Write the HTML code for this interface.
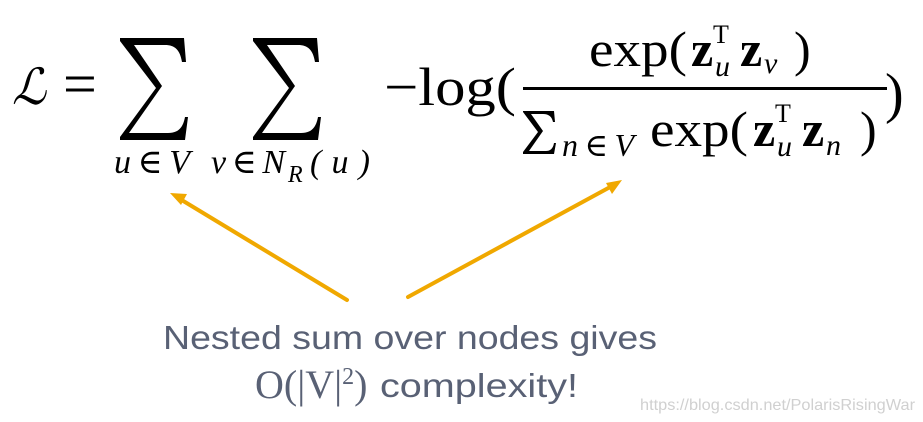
<!DOCTYPE html>
<html><head><meta charset="utf-8"><style>
html,body{margin:0;padding:0;background:#fff;}
svg{display:block;}
text{font-family:"Liberation Serif","DejaVu Serif",serif;fill:#000;}
.i{font-style:italic;}
.b{font-weight:bold;}
</style></head><body>
<svg width="923" height="422" viewBox="0 0 923 422" xmlns="http://www.w3.org/2000/svg">
<defs>
<path id="sig" d="M0,0 L64,0 L66,24 L62,24 C60,12 55,7 45,7 L14,7 L42,48 L9,95 L48,95 C58,95 63,90 65,79 L68,79 L65,102 L0,102 L0,99 L36,50 L0,3 Z"/>
</defs>
<text x="12" y="104" font-size="50" class="i" font-family="DejaVu Serif" textLength="34" lengthAdjust="spacingAndGlyphs">ℒ</text>
<text x="63" y="104" font-size="60">=</text>
<use href="#sig" x="120" y="38"/>
<use href="#sig" x="253" y="38"/>
<text x="114" y="173" font-size="34" class="i" textLength="76" lengthAdjust="spacing">u∈V</text>
<text x="211" y="173" font-size="34" class="i" textLength="74" lengthAdjust="spacing">v∈N</text>
<text x="288" y="182" font-size="24" class="i">R</text>
<text x="310" y="173" font-size="34" class="i" textLength="60" lengthAdjust="spacing">(u)</text>
<text x="384" y="105" font-size="54" textLength="132" lengthAdjust="spacingAndGlyphs">−log(</text>
<text x="589" y="66" font-size="50" textLength="98" lengthAdjust="spacingAndGlyphs">exp(</text>
<text x="691" y="66" font-size="50" class="b">z</text>
<text x="713" y="43" font-size="26">T</text>
<text x="715" y="76" font-size="30" class="i">u</text>
<text x="740" y="66" font-size="50" class="b">z</text>
<text x="764" y="73" font-size="30" class="i">v</text>
<text x="794" y="66" font-size="50">)</text>
<rect x="523" y="87" width="364" height="3" fill="#000"/>
<path d="M523,111 L554,111 L555,122 L553,122 C552,117 549,114 543,114 L531,114 L543,131 L529,151 L546,151 C550,151 553,149 554,143 L556,143 L554,154 L523,154 L523,152 L538,132 L523,112 Z"/>
<text x="562" y="156" font-size="32" class="i" textLength="72" lengthAdjust="spacing">n∈V</text>
<text x="650" y="146" font-size="50" textLength="98" lengthAdjust="spacingAndGlyphs">exp(</text>
<text x="753" y="146" font-size="50" class="b">z</text>
<text x="775" y="122" font-size="26">T</text>
<text x="777" y="156" font-size="30" class="i">u</text>
<text x="802" y="146" font-size="50" class="b">z</text>
<text x="826" y="155" font-size="30" class="i">n</text>
<text x="860" y="146" font-size="50">)</text>
<text x="885" y="112" font-size="56">)</text>
<g stroke="#F0A800" stroke-width="4" stroke-linecap="round">
<line x1="347" y1="300" x2="180" y2="199"/>
<line x1="408" y1="297" x2="612" y2="186"/>
</g>
<polygon points="170,193 187,194 181,205" fill="#F0A800"/>
<polygon points="622,180 612,194 606,183" fill="#F0A800"/>
<text x="163" y="349" font-size="33" style="font-family:'Liberation Sans',sans-serif;fill:#596175" textLength="494" lengthAdjust="spacingAndGlyphs">Nested sum over nodes gives</text>
<text x="255" y="398" font-size="40" style="font-family:'Liberation Serif',serif;fill:#596175">O(|V|<tspan font-size="24" dy="-14">2</tspan><tspan dy="14">)</tspan></text>
<text x="380" y="397" font-size="33" style="font-family:'Liberation Sans',sans-serif;fill:#596175" textLength="198" lengthAdjust="spacingAndGlyphs">complexity!</text>
<text x="640" y="410" font-size="16" style="font-family:'Liberation Sans',sans-serif;fill:#d0d0d0" textLength="275" lengthAdjust="spacingAndGlyphs">https://blog.csdn.net/PolarisRisingWar</text>
</svg>
</body></html>
